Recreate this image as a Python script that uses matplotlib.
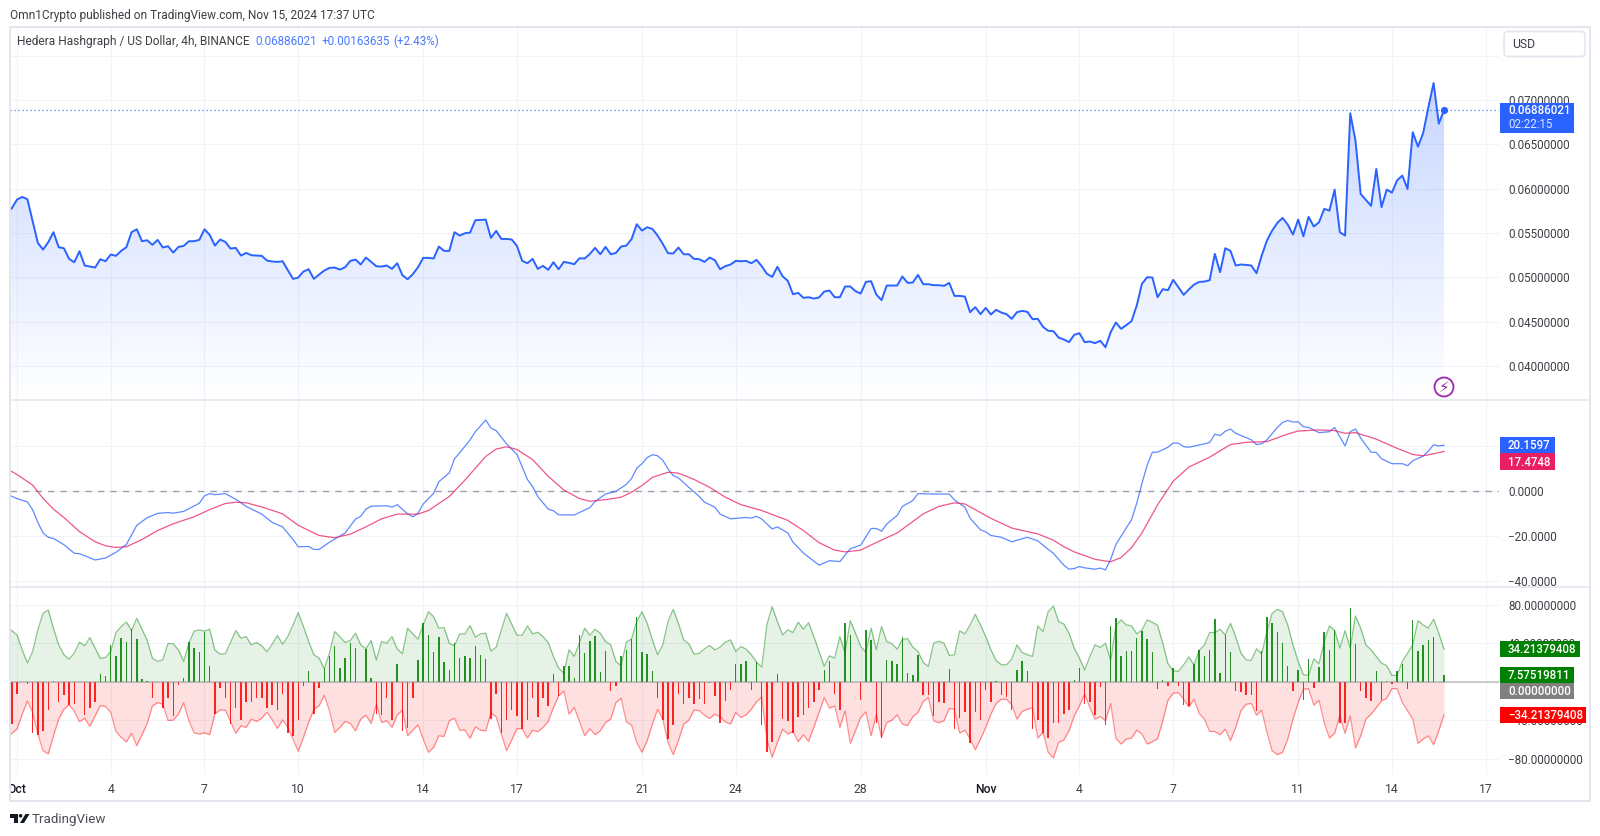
"""HBAR/USD 4h chart: price area, WaveTrend-style oscillator, band + histogram pane."""
import matplotlib
matplotlib.use("Agg")
import matplotlib.pyplot as plt
from matplotlib.patches import Rectangle, FancyBboxPatch, Circle, Polygon
from matplotlib.transforms import Bbox
import numpy as np

plt.rcParams["font.family"] = ["Roboto", "DejaVu Sans"]

BLUE, PINK, GREEN, RED = "#2962ff", "#e91e63", "#008000", "#ff0000"
GRID, BORDER, TXT = "#f0f3fa", "#e3e6ee", "#3d3f46"
W, H = 1600, 836

# bar index 0 is Oct 1 00:00, one bar is 4 hours
price = [
    0.05733, 0.05778, 0.05876, 0.05906, 0.05880, 0.05632, 0.05387, 0.05312, 0.05395, 0.05508,
    0.05338, 0.05327, 0.05207, 0.05169, 0.05293, 0.05132, 0.05120, 0.05109, 0.05203, 0.05180,
    0.05256, 0.05241, 0.05297, 0.05338, 0.05508, 0.05541, 0.05406, 0.05417, 0.05365, 0.05421,
    0.05335, 0.05350, 0.05278, 0.05342, 0.05353, 0.05406, 0.05406, 0.05421, 0.05541, 0.05478,
    0.05357, 0.05425, 0.05399, 0.05323, 0.05331, 0.05244, 0.05274, 0.05248, 0.05244, 0.05241,
    0.05188, 0.05177, 0.05173, 0.05180, 0.05079, 0.04981, 0.04996, 0.05064, 0.05090, 0.04981,
    0.05030, 0.05075, 0.05105, 0.05109, 0.05086, 0.05113, 0.05184, 0.05199, 0.05143, 0.05222,
    0.05173, 0.05124, 0.05120, 0.05132, 0.05094, 0.05158, 0.05023, 0.04977, 0.05034, 0.05113,
    0.05218, 0.05218, 0.05211, 0.05346, 0.05297, 0.05297, 0.05508, 0.05470, 0.05496, 0.05504,
    0.05643, 0.05647, 0.05650, 0.05444, 0.05523, 0.05432, 0.05432, 0.05425, 0.05353, 0.05184,
    0.05158, 0.05207, 0.05094, 0.05128, 0.05083, 0.05169, 0.05090, 0.05173, 0.05162, 0.05147,
    0.05214, 0.05211, 0.05263, 0.05331, 0.05259, 0.05342, 0.05259, 0.05274, 0.05346, 0.05357,
    0.05429, 0.05598, 0.05526, 0.05564, 0.05545, 0.05470, 0.05376, 0.05271, 0.05267, 0.05335,
    0.05259, 0.05259, 0.05207, 0.05203, 0.05173, 0.05222, 0.05192, 0.05090, 0.05124, 0.05143,
    0.05184, 0.05180, 0.05184, 0.05158, 0.05196, 0.05124, 0.05038, 0.05004, 0.05117, 0.05011,
    0.04959, 0.04808, 0.04823, 0.04767, 0.04774, 0.04759, 0.04771, 0.04838, 0.04850, 0.04774,
    0.04774, 0.04895, 0.04895, 0.04842, 0.04816, 0.04947, 0.04955, 0.04804, 0.04741, 0.04906,
    0.04906, 0.04906, 0.05008, 0.04936, 0.04940, 0.05026, 0.04921, 0.04921, 0.04910, 0.04910,
    0.04902, 0.04936, 0.04789, 0.04789, 0.04782, 0.04605, 0.04662, 0.04583, 0.04654, 0.04579,
    0.04632, 0.04601, 0.04583, 0.04530, 0.04605, 0.04620, 0.04609, 0.04526, 0.04530, 0.04440,
    0.04395, 0.04391, 0.04319, 0.04297, 0.04267, 0.04350, 0.04368, 0.04267, 0.04274, 0.04256,
    0.04282, 0.04210, 0.04380, 0.04489, 0.04417, 0.04459, 0.04504, 0.04680, 0.04925, 0.05000,
    0.04996, 0.04774, 0.04865, 0.04853, 0.04970, 0.04887, 0.04801, 0.04861, 0.04917, 0.04947,
    0.04951, 0.04966, 0.05263, 0.05056, 0.05327, 0.05297, 0.05132, 0.05143, 0.05139, 0.05132,
    0.05045, 0.05244, 0.05414, 0.05526, 0.05613, 0.05669, 0.05594, 0.05481, 0.05650, 0.05462,
    0.05681, 0.05572, 0.05620, 0.05771, 0.05752, 0.05989, 0.05508, 0.05470, 0.06850, 0.06542,
    0.05940, 0.05872, 0.05805, 0.06222, 0.05790, 0.05989, 0.05955, 0.06094, 0.06147, 0.05996,
    0.06636, 0.06474, 0.06628, 0.06918, 0.07192, 0.06733, 0.06886,
]
price_bar = np.arange(-2, len(price) - 2)

wt1_bar = [
    -2, 0, 2, 3, 4, 5, 6, 7, 9, 11, 12, 15, 17, 19, 21, 23, 25, 27, 29, 30, 32, 35, 36, 37, 38, 40,
    42, 44, 47, 49, 51, 53, 54, 56, 57, 58, 60, 63, 65, 66, 67, 68, 71, 72, 73, 75, 76, 77, 78, 80,
    81, 83, 84, 85, 87, 88, 90, 91, 92, 94, 96, 97, 98, 99, 100, 102, 103, 104, 107, 110, 111, 113,
    115, 117, 118, 119, 120, 121, 122, 123, 124, 125, 126, 127, 129, 131, 132, 134, 135, 137, 140,
    141, 142, 143, 145, 146, 148, 149, 151, 154, 156, 158, 160, 162, 164, 165, 166, 167, 169, 170,
    172, 173, 176, 179, 180, 182, 183, 185, 186, 187, 189, 191, 194, 196, 198, 199, 201, 202, 203,
    204, 205, 207, 208, 209, 210, 211, 212, 214, 215, 216, 217, 218, 219, 221, 222, 223, 224, 225,
    228, 229, 230, 231, 232, 233, 234, 237, 238, 239, 240, 242, 243, 244, 245, 246, 247, 248, 250,
    252, 253, 254, 255, 256, 257, 258, 260, 261, 262, 264, 266, 267, 268, 270, 271, 272, 273, 274,
]
wt1 = [
    -1.5, -3.5, -5.0, -8.5, -14.1, -18.8, -20.7, -21.2, -24.0, -27.8, -28.0, -30.8, -29.9, -27.4,
    -23.9, -15.4, -12.0, -10.1, -9.7, -10.0, -9.2, -5.6, -2.3, -1.3, -1.8, -1.3, -3.8, -7.0, -10.4,
    -14.1, -16.1, -21.7, -24.9, -24.8, -26.1, -26.1, -22.9, -18.8, -12.6, -11.4, -8.2, -6.9, -6.7,
    -7.3, -6.2, -10.3, -11.6, -10.0, -5.9, -1.2, 4.0, 7.9, 14.2, 16.8, 22.6, 26.2, 31.4, 27.8, 26.7,
    20.8, 16.1, 10.5, 5.0, 1.8, -2.6, -8.2, -8.9, -10.7, -10.8, -7.5, -4.8, -1.5, -0.3, 2.8, 5.4,
    10.0, 12.0, 14.7, 16.0, 15.5, 13.5, 9.7, 6.7, 5.7, 1.5, -2.6, -5.1, -7.3, -10.4, -12.5, -11.9,
    -12.2, -11.4, -12.6, -17.0, -16.1, -18.8, -22.9, -27.7, -33.1, -31.1, -31.5, -25.8, -24.2,
    -16.8, -16.8, -18.0, -14.8, -11.0, -7.0, -4.4, -1.3, -1.5, -1.5, -4.1, -7.3, -12.2, -17.4,
    -18.3, -19.9, -20.7, -22.7, -20.7, -22.3, -26.1, -27.8, -33.1, -34.9, -34.6, -33.7, -34.3,
    -34.9, -34.4, -35.2, -30.5, -23.9, -20.2, -12.9, -5.6, 3.2, 11.3, 17.1, 17.1, 19.3, 21.2, 21.1,
    19.6, 19.3, 20.8, 21.4, 25.1, 24.5, 26.4, 27.4, 25.5, 22.6, 20.5, 20.9, 22.6, 28.1, 30.3, 31.2,
    30.5, 30.6, 28.4, 28.1, 25.8, 26.2, 28.1, 24.0, 19.9, 26.2, 27.4, 23.4, 17.1, 17.0, 14.2, 12.0,
    12.0, 11.1, 13.3, 15.4, 17.6, 20.4, 19.9, 20.16,
]
wt2_bar = [
    -2, 0, 3, 5, 7, 9, 12, 15, 17, 19, 21, 24, 27, 30, 34, 37, 40, 42, 44, 47, 51, 54, 58, 61, 64,
    67, 70, 73, 77, 79, 83, 86, 90, 92, 94, 96, 99, 102, 105, 108, 110, 113, 116, 118, 120, 122,
    125, 127, 130, 133, 136, 139, 143, 148, 151, 154, 157, 159, 162, 165, 169, 174, 177, 180, 182,
    187, 191, 196, 199, 201, 203, 207, 210, 212, 214, 216, 219, 222, 225, 229, 233, 236, 240, 244,
    246, 250, 253, 255, 257, 261, 265, 268, 270, 272, 274,
]
wt2 = [
    9.8, 7.2, 2.5, -3.4, -8.2, -11.9, -18.2, -22.7, -24.5, -25.2, -24.9, -21.7, -17.7, -14.7, -11.6,
    -8.4, -5.7, -5.1, -5.4, -7.2, -10.3, -15.4, -19.9, -20.9, -19.3, -16.1, -12.5, -10.4, -10.4,
    -8.8, -2.6, 4.7, 15.2, 18.5, 19.5, 18.3, 13.8, 6.4, 0.3, -3.5, -4.7, -4.0, -2.9, -0.7, 2.3, 5.9,
    8.2, 7.8, 5.0, 1.5, -2.9, -6.2, -8.8, -13.2, -17.7, -23.1, -26.4, -27.2, -26.4, -23.0, -18.8,
    -10.3, -7.0, -5.4, -5.9, -12.3, -16.6, -19.2, -22.0, -24.9, -27.2, -30.5, -31.6, -29.7, -25.3,
    -18.8, -6.3, 4.2, 10.5, 14.9, 20.5, 21.5, 21.8, 25.2, 26.5, 27.0, 26.7, 25.5, 25.8, 22.9, 18.8,
    16.1, 15.5, 16.4, 17.47,
]

# upper envelope of the bottom pane, the lower one is its mirror
band = [
    56.9, 53.4, 49.0, 33.4, 19.7, 31.7, 54.1, 71.4, 74.8, 55.9, 38.6, 28.3, 23.8, 30.0, 41.4, 37.6,
    46.2, 35.2, 24.5, 25.5, 31.7, 51.4, 57.6, 62.4, 53.4, 66.2, 54.8, 43.1, 24.8, 21.4, 23.1, 40.0,
    39.7, 33.4, 21.4, 40.3, 52.8, 54.1, 52.8, 54.8, 33.1, 29.0, 29.3, 41.0, 53.4, 45.5, 47.2, 38.6,
    41.0, 37.6, 31.4, 39.3, 48.3, 39.3, 47.2, 59.3, 72.1, 57.6, 42.1, 28.3, 24.8, 13.8, 30.0, 52.4,
    47.2, 41.0, 43.1, 50.7, 38.6, 34.5, 43.1, 22.8, 42.1, 40.3, 47.2, 34.5, 29.3, 55.9, 50.0, 44.5,
    59.3, 73.1, 67.9, 55.9, 56.6, 40.3, 37.6, 50.0, 50.0, 58.6, 46.6, 50.0, 50.7, 32.1, 36.2, 54.1,
    71.4, 60.0, 48.6, 48.6, 58.3, 50.0, 51.7, 47.2, 41.0, 26.6, 14.5, 9.3, 33.4, 26.6, 41.0, 55.9,
    48.6, 54.8, 50.7, 42.1, 38.6, 21.4, 16.9, 41.4, 44.8, 62.8, 73.1, 61.0, 43.8, 28.3, 38.6, 62.8,
    75.5, 61.0, 43.8, 39.7, 29.0, 29.7, 34.5, 37.9, 33.4, 36.2, 41.4, 43.8, 31.7, 36.9, 34.1, 28.3,
    20.7, 15.5, 60.0, 78.3, 62.8, 49.0, 54.1, 51.4, 62.1, 54.8, 61.7, 47.2, 31.7, 16.2, 27.2, 24.8,
    47.2, 30.0, 63.8, 50.7, 36.9, 31.0, 55.9, 33.4, 57.6, 42.1, 39.7, 34.1, 43.8, 45.2, 36.2, 31.7,
    20.3, 16.2, 40.3, 42.4, 40.3, 27.6, 28.3, 53.1, 50.0, 59.3, 70.3, 59.3, 47.2, 33.4, 22.4, 17.9,
    17.9, 23.8, 38.6, 30.7, 28.3, 26.6, 58.3, 52.4, 73.1, 79.0, 62.8, 60.3, 50.7, 35.2, 24.8, 12.4,
    26.6, 38.6, 35.9, 40.3, 22.4, 58.6, 64.5, 59.3, 58.3, 50.0, 54.1, 64.5, 62.1, 59.0, 40.3, 19.0,
    11.7, 11.0, 17.9, 25.9, 17.9, 32.8, 38.6, 51.4, 51.4, 54.8, 49.0, 61.0, 47.2, 30.0, 23.1, 22.4,
    34.5, 29.3, 52.4, 71.4, 75.5, 73.1, 59.3, 38.6, 21.4, 7.6, 6.9, 24.1, 19.0, 42.1, 58.3, 53.4,
    35.2, 53.4, 35.2, 68.6, 55.9, 38.6, 33.4, 26.6, 19.7, 16.9, 6.9, 6.9, 21.4, 30.0, 38.6, 63.8,
    59.3, 55.9, 65.2, 50.7, 34.21,
]
band_bar = np.arange(-2, len(band) - 2)

hist = [
    -44, -12, 0.5, -2, -52.8, -55.5, -51, -29.3, 0.7, -20.3, -14, -23.8, -22.4, 0.3, -34, -26.6,
    -20.3, 8, 5.9, 38.6, 27.2, 45.5, 41.7, 55.5, 44.8, 3.1, 1, -16.9, 0.5, -27.2, -16.9, -35.5,
    -2.8, 3.8, 41.7, 35.5, 31.4, 52.4, 16.9, -32.8, -5.9, -16.9, -43.8, -27.2, -39.7, -21, -20.3,
    -16.9, -16.9, -27.2, -24.1, -28.6, -12, -53.4, -56.2, -39.7, -4.5, 11, -33.4, -5.9, 14.5, 27.2,
    37.6, 14.1, 25.2, 41, 35.5, 0.3, 34.1, 3.8, -33.4, -34.8, -16.9, -39.7, 19,
    -50.7, -47.6, -16.9, 23.1, 61, 49, 31.4, 46.9, 20.3, 12.8, 40.3, 25.2, 27.2, 25.2, 37.6, 28.3,
    24.1, -38.3, -12, -53.4, -39.7, -29.3, -35.5, -48.6, -39, -16.9, -36.2, -16.9, -24.5, 7.9,
    -14.1, 16.9, 16.9, 3.8, 49, 30, 42.8, 47.9, 10, 32.4, -9.7, -3.8, 27.2, 33.4, 44.5, 67.9, 30.7,
    29.3, 11, -16.9, -39.7, -59, -44.5, -12, -23.1, -16.9, -22.4, -17.6, -23.1, -0.7, -14.8, -42.4,
    -20, -8.6, 19, 19, 22, -7.9, 20.3, -44.5, -72.8, -62.4, 7.9, -38.3, -41, -52.8, -36.2,
    -34.5, -26.6, -20.3, -7.9, 12.8, 21.4, -12, -28.6, 61, 49, -0.3, -18.3, 54.1, 43.8, -42.4,
    -57.9, 23.1, 21.4, 19, 46.9, 9.3, 7.2, 28.3, -13.4, -13.4, -35.5, -21, -21.7, 13.4, -49.3,
    -36.9, -31.4, -63.1, -30.7, -39.7, -7.9, -21, 0.7, -13.1, -15.5, -28.6, 12, 21.4, 11, -48.6,
    -39.7, -52.8, -58.6, -42.4, -42.4, -32.8, -28.6, 1.7, 14.1, -22.4, -20.3, -34.8, -5.2, -44.5,
    58.6, 66.2, 27.2, 32.1, 32.4, 45.5, 53.1, 44.8, 30.7, -7.2, 1.7, -3.8, 14.5, -3.8, -24.1, -25.2,
    19, 33.4,
    27.2, 33.4, 65.2, 9.3, 49, 30.7, -9.7, -10.7, -13.4, -13.1, -30, 32.1, 67.2, 61, 52, 41, 16.2,
    -9.7, 12.8, -18.3, 24.1, -5.9, 15.2, 51.7, 33.4, 54.1, -42.4, -42.4, 76.6, 39.7, -9.7, -16.9,
    -20, 11, -18.3, 0.7, -1.7, 11.7, 19, -6.9, 64.5, 31.7, 38.6, 43.8, 46.9, -0.3, 7.58,
]
hist_bar = np.arange(-1, len(hist) - 1)

date_bars = [0, 18, 36, 54, 78, 96, 120, 138, 162, 186, 204, 222, 246, 264, 282]
date_labels = ["Oct", "4", "7", "10", "14", "17", "21", "24", "28", "Nov", "4", "7", "11", "14", "17"]

price_ticks = [0.04, 0.045, 0.05, 0.055, 0.06, 0.065, 0.07, 0.075]
osc_ticks = [-40, -20, 0, 20]
band_ticks = [-80, -40, 0, 40, 80]


def pane(top, bottom, ylim):
    # panes are placed by their pixel rows in the 1600x836 picture
    ax = fig.add_axes([10 / W, 1 - bottom / H, (1499 - 10) / W, (bottom - top) / H])
    ax.set_xlim(-1.344, 284.56)
    ax.set_ylim(*ylim)
    for s in ax.spines.values():
        s.set_visible(False)
    ax.grid(True, color=GRID, linewidth=0.8)
    ax.set_axisbelow(True)
    ax.set_xticks(date_bars)
    ax.yaxis.tick_right()
    ax.tick_params(length=0, labelbottom=False, labelsize=8.4, labelcolor=TXT, pad=6.5)
    return ax


fig = plt.figure(figsize=(W / 100, H / 100), dpi=100, facecolor="white")

# ---- price pane
ax1 = pane(27, 400, (0.03614, 0.07824))
ax1.set_yticks(price_ticks)
ax1.set_yticklabels([f"{t:.8f}" for t in price_ticks[:-1]] + [""])
shape = ax1.fill_between(price_bar, price, 0.03614, color="none")
fade = np.zeros((256, 1, 4))
fade[..., :3] = matplotlib.colors.to_rgb(BLUE)
fade[:, 0, 3] = np.linspace(0.26, 0.0, 256)
img = ax1.imshow(fade, extent=(-1.344, 284.56, 0.03614, max(price)), aspect="auto",
                 origin="upper", zorder=1.5)
img.set_clip_path(shape.get_paths()[0], transform=ax1.transData)
ax1.set_xlim(-1.344, 284.56)
ax1.set_ylim(0.03614, 0.07824)
ax1.plot(price_bar, price, color=BLUE, linewidth=1.4, zorder=3)
ax1.axhline(price[-1], color=BLUE, linewidth=0.9, linestyle=(0, (1, 2.2)), alpha=0.8, zorder=2)
ax1.plot(price_bar[-1], price[-1], "o", color=BLUE, markersize=4.2, zorder=4)

# ---- oscillator pane
ax2 = pane(400, 587, (-42.8, 40.3))
ax2.set_yticks(osc_ticks)
ax2.set_yticklabels([f"{t:.4f}".replace("-", "\u2212") for t in osc_ticks])
ax2.axhline(0, color="#787b86", linewidth=1.0, linestyle=(0, (4.5, 4.5)), alpha=0.7, zorder=1.5)
ax2.plot(wt1_bar, wt1, color=BLUE, linewidth=0.9, alpha=0.75, zorder=3)
ax2.plot(wt2_bar, wt2, color=PINK, linewidth=0.9, alpha=0.75, zorder=3)

# ---- band + histogram pane
ax3 = pane(587, 774, (-95.6, 98.7))
ax3.set_yticks(band_ticks)
ax3.set_yticklabels([f"{t:.8f}".replace("-", "\u2212") for t in band_ticks])
band_up = np.array(band)
ax3.fill_between(band_bar, band_up, 0, color=GREEN, alpha=0.1, linewidth=0, zorder=1.5)
ax3.fill_between(band_bar, -band_up, 0, color=RED, alpha=0.12, linewidth=0, zorder=1.5)
ax3.plot(band_bar, band_up, color=GREEN, linewidth=0.9, alpha=0.45, zorder=2)
ax3.plot(band_bar, -band_up, color=RED, linewidth=0.9, alpha=0.42, zorder=2)
hist_arr = np.array(hist)
ax3.bar(hist_bar, hist_arr, width=0.28, color=[GREEN if v >= 0 else RED for v in hist_arr],
        alpha=0.85, linewidth=0, zorder=3)
ax3.axhline(0, color="#808080", linewidth=1.1, alpha=0.5, zorder=4)

# dates under the last pane, first one is cut by the frame
ax3.tick_params(axis="x", labelbottom=True, pad=6.5, labelsize=8.7)
ax3.set_xticklabels(date_labels)
for lab, txt in zip(ax3.get_xticklabels(), date_labels):
    lab.set_clip_box(Bbox([[10, 0], [W, H]]))
    lab.set_clip_on(True)
    if txt in ("Oct", "Nov"):
        lab.set_fontweight("medium")
        lab.set_color("#131722")

# ---- frame, header, value labels: drawn in picture pixels
ov = fig.add_axes([0, 0, 1, 1], zorder=10)
ov.set_xlim(0, W)
ov.set_ylim(H, 0)
ov.axis("off")
ov.patch.set_visible(False)

ov.add_patch(Rectangle((10, 26.5), 1580, 774.5, fill=False, edgecolor=BORDER, linewidth=1.4))
ov.plot([10, 1590], [400, 400], color=BORDER, linewidth=1.2)
ov.plot([10, 1590], [587, 587], color=BORDER, linewidth=1.2)


def value_box(x0, x1, y0, y1, color, text, text2=None):
    ov.add_patch(Rectangle((x0, y0), x1 - x0, y1 - y0, facecolor=color, edgecolor="none"))
    if text2 is None:
        ov.text(x0 + 8, (y0 + y1) / 2 + 0.5, text, color="white", fontsize=8.3, va="center",
                fontweight="medium")
    else:
        ov.text(x0 + 8, y0 + 8, text, color="white", fontsize=8.3, va="center", fontweight="medium")
        ov.text(x0 + 8, y0 + 22, text2, color="#dce6ff", fontsize=8.3, va="center")


value_box(1500, 1574, 103, 133, BLUE, "0.06886021", "02:22:15")
value_box(1500, 1555, 437, 453, BLUE, "20.1597")
value_box(1500, 1555, 453, 470, PINK, "17.4748")
value_box(1500, 1580, 641, 657, GREEN, "34.21379408")
value_box(1500, 1574, 667, 683, GREEN, "7.57519811")
value_box(1500, 1574, 683, 699, "#808080", "0.00000000")
value_box(1500, 1586, 707, 723, RED, "\u221234.21379408")

ov.add_patch(FancyBboxPatch((1504, 31.5), 81, 25, boxstyle="round,pad=0,rounding_size=4",
                            facecolor="white", edgecolor=BORDER, linewidth=1.2))
ov.text(1512, 44.5, "USD", color=TXT, fontsize=8.8, va="center")

ov.text(10, 15, "Omn1Crypto published on TradingView.com, Nov 15, 2024 17:37 UTC",
        color=TXT, fontsize=8.6, va="center")
ov.text(17, 41.5, "Hedera Hashgraph / US Dollar, 4h, BINANCE", color=TXT, fontsize=8.6, va="center")
ov.text(255, 41.5, "0.06886021", color=BLUE, fontsize=8.4, va="center", alpha=0.85)
ov.text(322, 41.5, "+0.00163635", color=BLUE, fontsize=8.4, va="center", alpha=0.85)
ov.text(393, 41.5, "(+2.43%)", color=BLUE, fontsize=8.4, va="center", alpha=0.85)

# replay marker
ov.add_patch(Circle((1444, 387), 9.5, facecolor="white", edgecolor="#9c27b0", linewidth=1.3))
ov.text(1444, 387.5, "\u26a1", color="#9c27b0", fontsize=11, ha="center", va="center",
        family="DejaVu Sans")

# TradingView mark
ov.add_patch(Polygon([(10, 814), (18, 814), (18, 823), (14, 823), (14, 817.5), (10, 817.5)],
                     facecolor="#131722", edgecolor="none"))
ov.add_patch(Circle((20.6, 815.8), 1.8, facecolor="#131722", edgecolor="none"))
ov.add_patch(Polygon([(25.5, 814), (29.5, 814), (24, 823), (20, 823)], facecolor="#131722", edgecolor="none"))
ov.text(32, 819, "TradingView", color="#4a4d55", fontsize=9.6, va="center")

fig.savefig("out.png", dpi=100, facecolor="white")
